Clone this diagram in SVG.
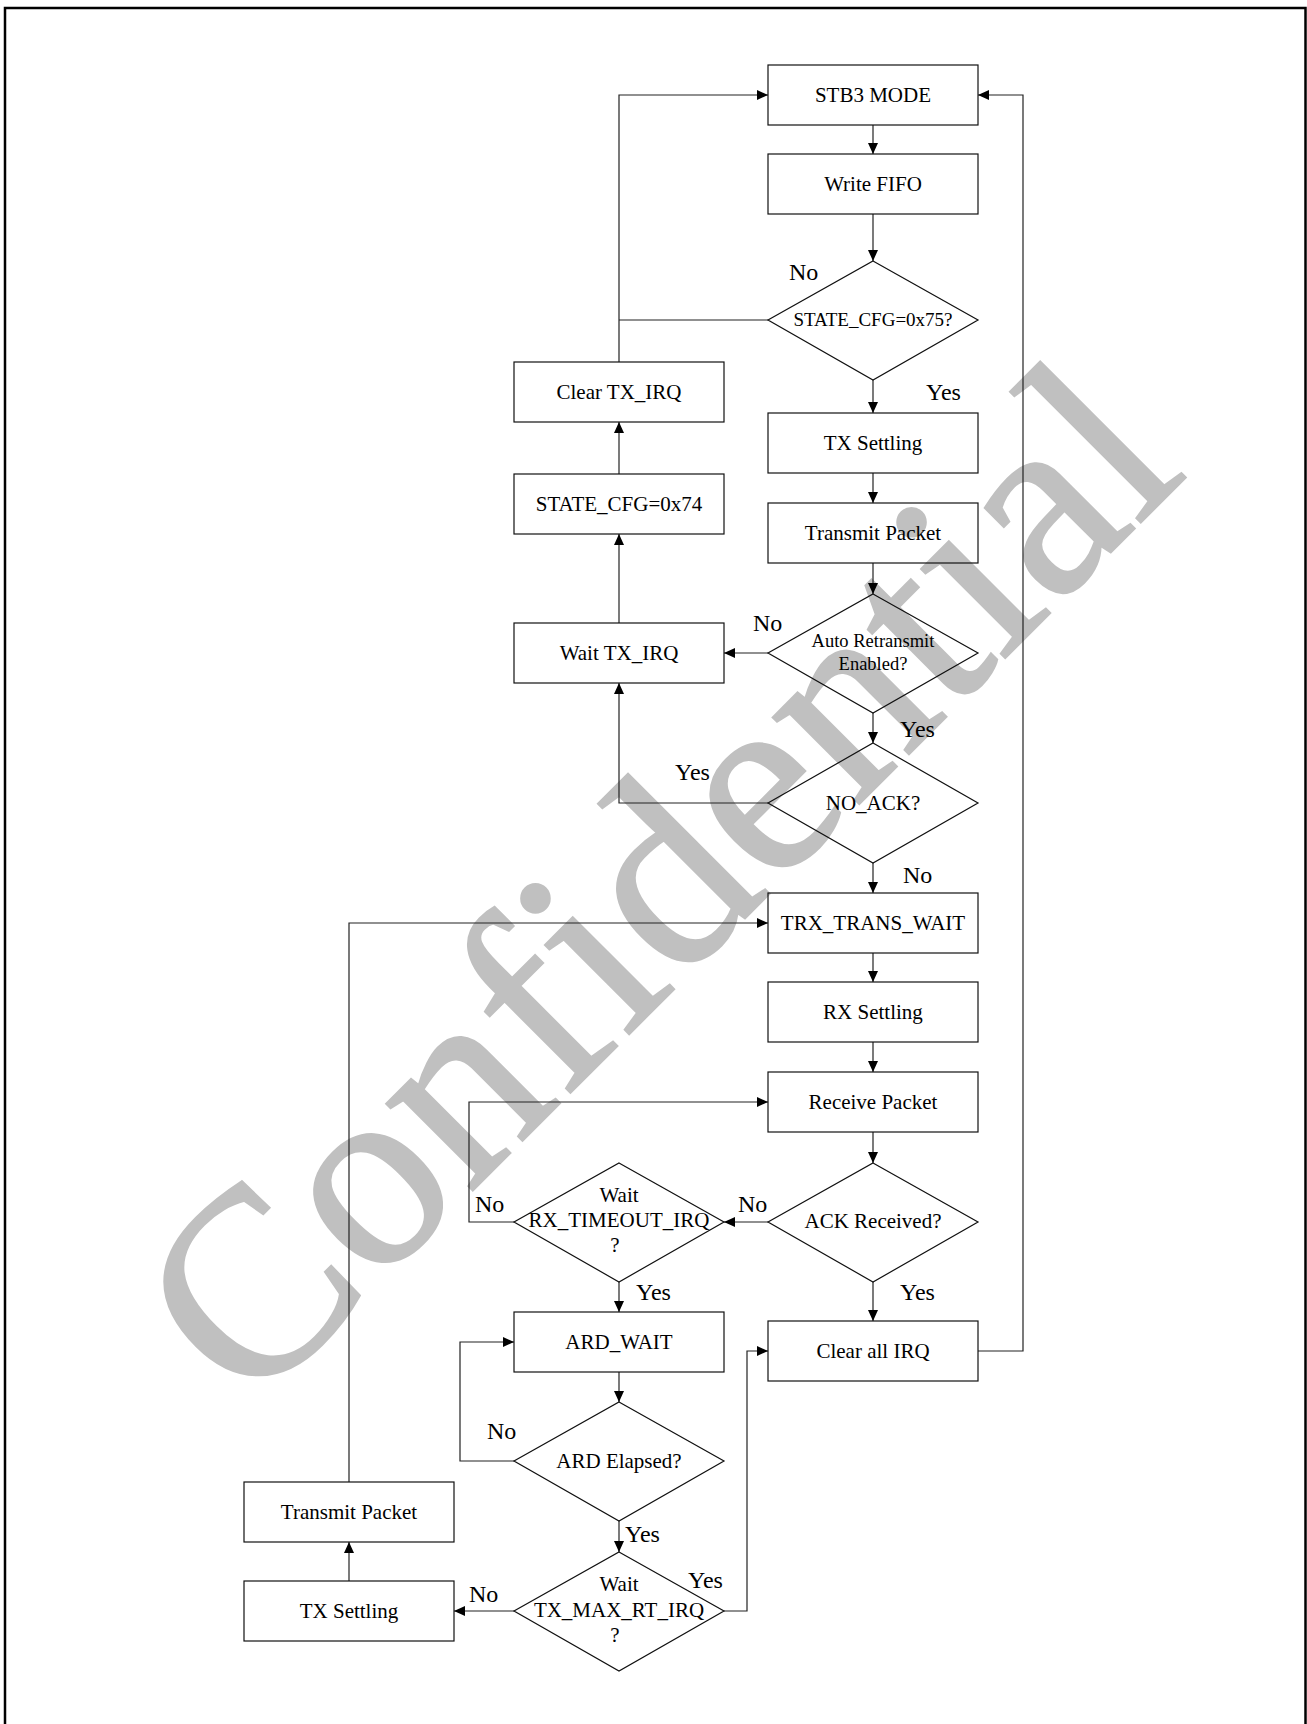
<svg xmlns="http://www.w3.org/2000/svg" width="1307" height="1724" viewBox="0 0 1307 1724">
<style>
.frame{fill:none;stroke:#000;stroke-width:2.5}
.box{fill:none;stroke:#111;stroke-width:1.2}
.conn{fill:none;stroke:#222;stroke-width:1.2}
.arr{marker-end:url(#ah)}
.t{font-family:"Liberation Serif","Times New Roman",serif;font-size:21px;text-anchor:middle;fill:#000}
.ts{font-size:19px}
.tx{font-size:18.5px}
.lbl{font-family:"Liberation Serif","Times New Roman",serif;font-size:24px;fill:#000}
.wm{font-family:"Liberation Serif","Times New Roman",serif;font-size:266px;fill:#c0c0c0;stroke:#c0c0c0;stroke-width:2.5}
</style>
<defs>
<marker id="ah" markerUnits="userSpaceOnUse" markerWidth="11" markerHeight="10" viewBox="0 0 11 10" refX="11" refY="5" orient="auto">
<path d="M0,0 L11,5 L0,10 z" fill="#000"/>
</marker>
</defs>
<rect width="1307" height="1724" fill="#fff"/>
<rect class="frame" x="5" y="8" width="1300.5" height="1740"/>
<text class="wm" x="249" y="1414" transform="rotate(-45 249 1414)">Confidential</text>

<g id="connectors">
<path class="conn arr" d="M873,125 V154"/>
<path class="conn arr" d="M873,214 V261"/>
<path class="conn arr" d="M873,380 V413"/>
<path class="conn arr" d="M873,473 V503"/>
<path class="conn arr" d="M873,563 V594"/>
<path class="conn arr" d="M768,653 H724"/>
<path class="conn arr" d="M873,713 V743"/>
<path class="conn arr" d="M768,803 H619 V683"/>
<path class="conn arr" d="M619,623 V534"/>
<path class="conn arr" d="M619,474 V422"/>
<path class="conn arr" d="M619,362 V95 H768"/>
<path class="conn" d="M768,320 H619"/>
<path class="conn arr" d="M873,863 V893"/>
<path class="conn arr" d="M873,953 V982"/>
<path class="conn arr" d="M873,1042 V1072"/>
<path class="conn arr" d="M873,1132 V1163"/>
<path class="conn arr" d="M768,1222 H724"/>
<path class="conn arr" d="M514,1222 H469 V1102 H768"/>
<path class="conn arr" d="M619,1282 V1312"/>
<path class="conn arr" d="M873,1282 V1321"/>
<path class="conn arr" d="M619,1372 V1402"/>
<path class="conn arr" d="M514,1461 H460 V1342 H514"/>
<path class="conn arr" d="M619,1521 V1552"/>
<path class="conn arr" d="M514,1611 H454"/>
<path class="conn arr" d="M724,1611 H747 V1351 H768"/>
<path class="conn arr" d="M349,1581 V1542"/>
<path class="conn arr" d="M349,1482 V923 H768"/>
<path class="conn arr" d="M978,1351 H1023 V95 H978"/>
</g>

<g id="edge-labels">
<text class="lbl" x="789" y="280">No</text>
<text class="lbl" x="926" y="400">Yes</text>
<text class="lbl" x="753" y="631">No</text>
<text class="lbl" x="900" y="737">Yes</text>
<text class="lbl" x="675" y="780">Yes</text>
<text class="lbl" x="903" y="883">No</text>
<text class="lbl" x="738" y="1212">No</text>
<text class="lbl" x="475" y="1212">No</text>
<text class="lbl" x="636" y="1300">Yes</text>
<text class="lbl" x="900" y="1300">Yes</text>
<text class="lbl" x="487" y="1439">No</text>
<text class="lbl" x="625" y="1542">Yes</text>
<text class="lbl" x="688" y="1588">Yes</text>
<text class="lbl" x="469" y="1602">No</text>
</g>

<g id="stb3">
<rect class="box" x="768" y="65" width="210" height="60"/>
<text class="t" x="873" y="102">STB3 MODE</text>
</g>
<g id="write-fifo">
<rect class="box" x="768" y="154" width="210" height="60"/>
<text class="t" x="873" y="191">Write FIFO</text>
</g>
<g id="state-cfg-75">
<polygon class="box" points="873,261 978,320 873,380 768,320"/>
<text class="t ts" x="873" y="326">STATE_CFG=0x75?</text>
</g>
<g id="tx-settling-1">
<rect class="box" x="768" y="413" width="210" height="60"/>
<text class="t" x="873" y="450">TX Settling</text>
</g>
<g id="transmit-packet-1">
<rect class="box" x="768" y="503" width="210" height="60"/>
<text class="t" x="873" y="540">Transmit Packet</text>
</g>
<g id="auto-retransmit">
<polygon class="box" points="873,594 978,653 873,713 768,653"/>
<text class="t tx" x="873" y="647">Auto Retransmit</text>
<text class="t tx" x="873" y="670">Enabled?</text>
</g>
<g id="no-ack">
<polygon class="box" points="873,743 978,803 873,863 768,803"/>
<text class="t" x="873" y="810">NO_ACK?</text>
</g>
<g id="trx-trans-wait">
<rect class="box" x="768" y="893" width="210" height="60"/>
<text class="t" x="873" y="930">TRX_TRANS_WAIT</text>
</g>
<g id="rx-settling">
<rect class="box" x="768" y="982" width="210" height="60"/>
<text class="t" x="873" y="1019">RX Settling</text>
</g>
<g id="receive-packet">
<rect class="box" x="768" y="1072" width="210" height="60"/>
<text class="t" x="873" y="1109">Receive Packet</text>
</g>
<g id="ack-received">
<polygon class="box" points="873,1163 978,1222 873,1282 768,1222"/>
<text class="t" x="873" y="1228">ACK Received?</text>
</g>
<g id="clear-all-irq">
<rect class="box" x="768" y="1321" width="210" height="60"/>
<text class="t" x="873" y="1358">Clear all IRQ</text>
</g>

<g id="clear-tx-irq">
<rect class="box" x="514" y="362" width="210" height="60"/>
<text class="t" x="619" y="399">Clear TX_IRQ</text>
</g>
<g id="state-cfg-74">
<rect class="box" x="514" y="474" width="210" height="60"/>
<text class="t" x="619" y="511">STATE_CFG=0x74</text>
</g>
<g id="wait-tx-irq">
<rect class="box" x="514" y="623" width="210" height="60"/>
<text class="t" x="619" y="660">Wait TX_IRQ</text>
</g>
<g id="wait-rx-timeout">
<polygon class="box" points="619,1163 724,1222 619,1282 514,1222"/>
<text class="t" x="619" y="1202">Wait</text>
<text class="t" x="619" y="1227">RX_TIMEOUT_IRQ</text>
<text class="t" x="615" y="1252">?</text>
</g>
<g id="ard-wait">
<rect class="box" x="514" y="1312" width="210" height="60"/>
<text class="t" x="619" y="1349">ARD_WAIT</text>
</g>
<g id="ard-elapsed">
<polygon class="box" points="619,1402 724,1461 619,1521 514,1461"/>
<text class="t" x="619" y="1468">ARD Elapsed?</text>
</g>
<g id="wait-tx-max-rt">
<polygon class="box" points="619,1552 724,1611 619,1671 514,1611"/>
<text class="t" x="619" y="1591">Wait</text>
<text class="t" x="619" y="1617">TX_MAX_RT_IRQ</text>
<text class="t" x="615" y="1642">?</text>
</g>

<g id="transmit-packet-2">
<rect class="box" x="244" y="1482" width="210" height="60"/>
<text class="t" x="349" y="1519">Transmit Packet</text>
</g>
<g id="tx-settling-2">
<rect class="box" x="244" y="1581" width="210" height="60"/>
<text class="t" x="349" y="1618">TX Settling</text>
</g>
</svg>
